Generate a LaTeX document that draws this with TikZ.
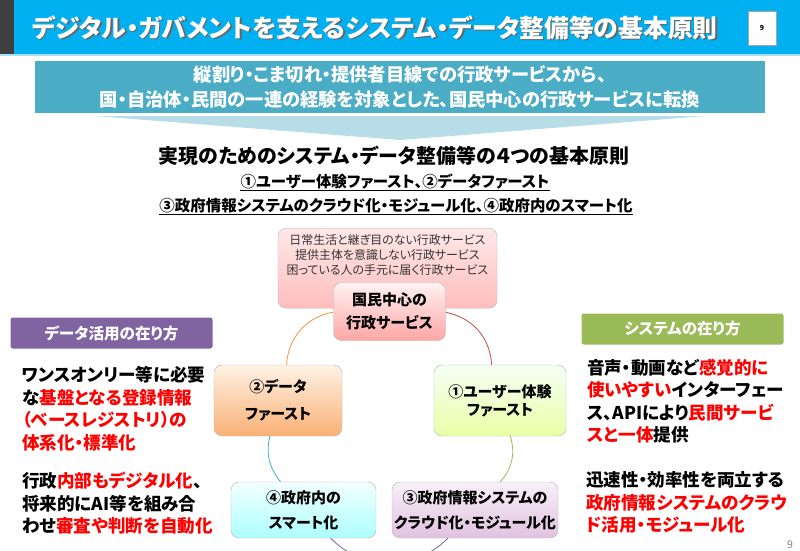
\documentclass[tikz,border=0pt]{standalone}
\usepackage{fontspec}
\setmainfont{Noto Sans CJK JP}[RawFeature=+palt]
\usepackage{xcolor}
\usetikzlibrary{positioning}
\newcommand{\pxu}{0.03cm}
\newcommand{\fsz}[2]{\fontsize{#1}{#2}\selectfont}
\newcommand{\rd}[1]{\textcolor{alertRed}{#1}}
\definecolor{titleBlue}{HTML}{00B0F0}
\definecolor{stripGray}{HTML}{3F3F3F}
\definecolor{bannerTeal}{HTML}{4BACC6}
\definecolor{wedgeBlue}{HTML}{B7DEE8}
\definecolor{alertRed}{HTML}{FF0000}
\definecolor{dataPurple}{HTML}{8064A2}
\definecolor{sysGreen}{HTML}{9BBB59}
\definecolor{ringOrange}{HTML}{F79646}
\definecolor{ringRed}{HTML}{C0504D}
\definecolor{ringBlue}{HTML}{4BACC6}

\begin{document}
\begin{tikzpicture}[
    x=0.03cm, y=-0.03cm,
    every node/.style={inner sep=0pt},
    titletext/.style={font=\bfseries\fsz{21.2}{26}},
    pagebox/.style={draw=gray!70,fill=white,minimum width=28*\pxu,minimum height=34*\pxu,font=\bfseries\fsz{6}{7}},
    banner/.style={fill=bannerTeal,text=white,align=center,minimum width=730*\pxu,minimum height=52*\pxu,font=\bfseries\fsz{15.6}{19}},
    heading/.style={font=\bfseries\fsz{17}{20}},
    subline/.style={font=\bfseries\fsz{13.2}{16}},
    tagbox/.style={rounded corners=2pt,text=white,minimum width=202*\pxu,minimum height=31*\pxu,font=\bfseries\fsz{13.3}{16}},
    memo/.style={align=left,anchor=west,font=\bfseries\fsz{15}{19.2}},
    cbox/.style={draw=gray!55,rounded corners=7pt,align=center,font=\bfseries\fsz{12.8}{21}},
    ring/.style={line width=0.7pt}
  ]
  \useasboundingbox (0,0) rectangle (800,550);
  %% Title bar
  \fill[titleBlue] (0,0) rectangle (800,54);
  \fill[stripGray] (0,0) rectangle (14,54);
  \fill[titleBlue!35] (0,54) rectangle (800,56);
  \node[titletext,text=black!60] at (376.5,29) {デジタル・ガバメントを支えるシステム・データ整備等の基本原則};
  \node[titletext,text=white] (title) at (375,27.5) {デジタル・ガバメントを支えるシステム・データ整備等の基本原則};
  \node[pagebox] (pgbox) at (762,28) {9};
  %% Banner and wedge
  \node[banner] (shift) at (400,87) {縦割り・こま切れ・提供者目線での行政サービスから、\\[3pt]国・自治体・民間の一連の経験を対象とした、国民中心の行政サービスに転換};
  \fill[wedgeBlue] (95,116) -- (705,116) -- (400,140) -- cycle;
  %% Four principles
  \node[heading] (head) at (394,156) {実現のためのシステム・データ整備等の４つの基本原則};
  \node[subline] (sub1) at (395,182) {①ユーザー体験ファースト、②データファースト};
  \node[subline] (sub2) at (396,206) {③政府情報システムのクラウド化・モジュール化、④政府内のスマート化};
  \draw[line width=1pt] ([yshift=-2.5pt]sub1.base west) -- ([yshift=-2.5pt]sub1.base east);
  \draw[line width=1pt] ([yshift=-2.5pt]sub2.base west) -- ([yshift=-2.5pt]sub2.base east);
  %% Aims box
  \node[cbox,top color=red!9,bottom color=red!26,minimum width=219*\pxu,minimum height=80*\pxu,
        font=\fsz{10.2}{12.8},text=black!80,anchor=north] (aims) at (387.5,228)
        {日常生活と継ぎ目のない行政サービス\\提供主体を意識しない行政サービス\\困っている人の手元に届く行政サービス\\[11pt]};
  %% Cycle boxes
  \node[cbox,top color=red!5,bottom color=red!35,minimum width=112*\pxu,minimum height=58*\pxu,font=\bfseries\fsz{12.8}{19.6}] (core) at (389.5,311.5) {国民中心の\\行政サービス};
  \node[cbox,top color=orange!10,bottom color=ringOrange!75,minimum width=128*\pxu,minimum height=71*\pxu,font=\bfseries\fsz{12.8}{23}] (dfirst) at (278,400.5) {②データ\\ファースト};
  \node[cbox,top color=green!4!white,bottom color=lime!35!white,minimum width=132*\pxu,minimum height=71*\pxu,font=\bfseries\fsz{12.8}{15.4}] (ufirst) at (500,400.5) {①ユーザー体験\\ファースト};
  \node[cbox,top color=cyan!5,bottom color=cyan!32,minimum width=145*\pxu,minimum height=56*\pxu] (smart) at (303.5,510) {④政府内の\\スマート化};
  \node[cbox,top color=violet!6,bottom color=violet!24,minimum width=166*\pxu,minimum height=56*\pxu] (cloud) at (475,510) {③政府情報システムの\\クラウド化・モジュール化};
  %% Ring connectors
  \draw[ring,ringRed] (core) to[bend left=38] (ufirst);
  \draw[ring,sysGreen] (ufirst) to[bend left=29] (cloud);
  \draw[ring,dataPurple] (cloud) to[bend left=46] (smart);
  \draw[ring,ringBlue] (smart) to[bend left=26] (dfirst);
  \draw[ring,ringOrange] (dfirst) to[bend left=38] (core);
  %% Side tags
  \node[tagbox,fill=dataPurple] (datatag) at (111.5,333) {データ活用の在り方};
  \node[tagbox,fill=sysGreen] (systag) at (682.5,329) {システムの在り方};
  %% Side notes
  \node[memo] (dnote1) at (22,408.5) {ワンスオンリー等に必要\\な\rd{基盤となる登録情報}\\\rd{（ベースレジストリ）の}\\\rd{体系化・標準化}};
  \node[memo] (dnote2) at (22,503.5) {行政\rd{内部もデジタル化}、\\将来的にAI等を組み合\\わせ\rd{審査や判断を自動化}};
  \node[memo] (snote1) at (587,401) {音声・動画など\rd{感覚的に}\\\rd{使いやすい}インターフェー\\ス、APIにより\rd{民間サービ}\\\rd{スと一体}提供};
  \node[memo] (snote2) at (586,502.5) {迅速性・効率性を両立する\\\rd{政府情報システムのクラウ}\\\rd{ド活用・モジュール化}};
  \node[font=\fsz{9}{10},text=gray] (pgno) at (790,545) {9};
\end{tikzpicture}
\end{document}
